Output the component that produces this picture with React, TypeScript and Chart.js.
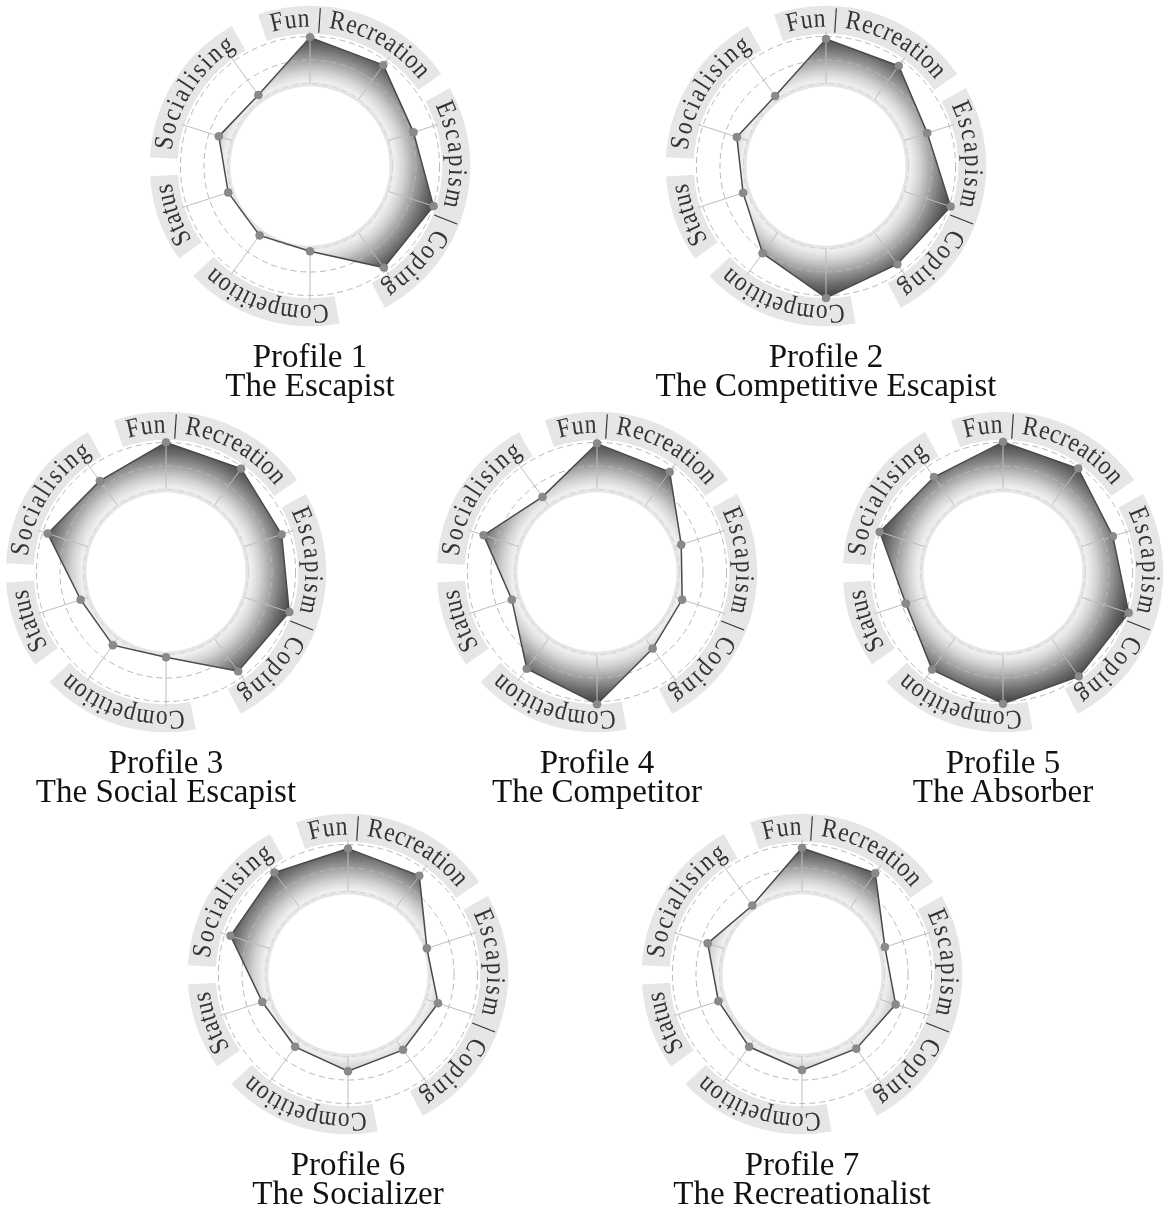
import React, { useEffect, useRef } from 'react';
import { Chart, registerables } from 'chart.js';

Chart.register(...registerables);

// ---------- data ----------
const spokeLabels = [
  'Fun', 'Recreation', 'Escapism', 'Escapism / Coping', 'Coping',
  'Competition A', 'Competition B', 'Status', 'Socialising A', 'Socialising B',
];
const groupLabels = ['Fun | Recreation', 'Escapism | Coping', 'Competition', 'Status', 'Socialising'];
const groupMembers = [[0, 1], [2, 3, 4], [5, 6], [7], [8, 9]];
const gridValues = [-1, 0, 1];

const profileNumbers = ['Profile 1', 'Profile 2', 'Profile 3', 'Profile 4', 'Profile 5', 'Profile 6', 'Profile 7'];
const profileNames = [
  'The Escapist', 'The Competitive Escapist', 'The Social Escapist', 'The Competitor',
  'The Absorber', 'The Socializer', 'The Recreationalist',
];

const profile1 = [0.96, 0.79, 0.12, 1.01, 0.83, -0.88, -0.86, -0.85, -0.43, -0.77];
const profile2 = [0.89, 0.75, 0.02, 1.06, 0.65, 1.10, 0.08, -0.80, -0.52, -0.83];
const profile3 = [1.00, 0.92, 0.66, 1.00, 0.71, -0.88, -0.66, -0.69, 0.78, 0.28];
const profile4 = [0.95, 0.75, -0.74, -0.70, -0.48, 1.11, 0.57, -0.70, 0.56, -0.56];
const profile5 = [1.02, 0.93, 0.40, 1.11, 0.97, 1.09, 0.62, -0.16, 1.00, 0.48];
const profile6 = [0.82, 0.65, -0.98, -0.48, -0.52, -0.37, -0.68, -0.67, 0.74, 0.82];
const profile7 = [0.85, 0.79, -0.80, -0.32, -0.58, -0.42, -0.68, -0.77, -0.29, -0.91];
const profileValues = [profile1, profile2, profile3, profile4, profile5, profile6, profile7];

// ---------- scale / style constants ----------
const SCALE_MIN = -4.5;
const SCALE_MAX = 1.4;
const SPOKE_IN = -1;
const SPOKE_OUT = 1.2;
const HOLE = -1.12;

const gradientStops: [number, string][] = [
  [-1.2, '#e0e0e0'],
  [-1.05, '#e6e6e6'],
  [-0.9, '#efefef'],
  [-0.5, '#d2d2d2'],
  [0, '#a0a0a0'],
  [0.5, '#6e6e6e'],
  [1.0, '#464646'],
  [1.4, '#383838'],
];

const centers = [
  { cx: 310, cy: 166 },
  { cx: 826, cy: 166 },
  { cx: 166, cy: 572 },
  { cx: 597, cy: 572 },
  { cx: 1003, cy: 572 },
  { cx: 348, cy: 974 },
  { cx: 802, cy: 974 },
];
const SIZE = 360;
const PAD = 41;

const LABEL_FONT = '27px "Liberation Serif"';
const LABEL_SX = 0.87;
const labelTracking = [0.6, 1.9, 0.6, 0.6, 2.0];
const labelShiftDeg = [0, -1.5, 0, -1.5, -4];

const decorPlugin = {
  id: 'decor',
  beforeDatasetsDraw(chart: any) {
    const s = chart.scales.r;
    const ctx = chart.ctx as CanvasRenderingContext2D;
    const cx = s.xCenter;
    const cy = s.yCenter;
    const rBase = s.getDistanceFromCenterForValue(SPOKE_OUT);
    const rIn = rBase - 2;
    const rOut = rBase + 26;
    const rText = rBase + 5;
    ctx.save();
    ctx.font = LABEL_FONT;
    groupLabels.forEach((label, g) => {
      const ls = labelTracking[g];
      const angles = groupMembers[g].map((i) => s.getPointPosition(i, rBase).angle);
      const mid = angles.reduce((a, b) => a + b, 0) / angles.length + (labelShiftDeg[g] * Math.PI) / 180;
      const chars = Array.from(label);
      const widths = chars.map((ch) => ctx.measureText(ch).width * LABEL_SX + ls);
      const total = widths.reduce((a, b) => a + b, 0) - ls;
      const span = total / rText;
      const pad = 8 / rText;
      const a0 = mid - span / 2 - pad;
      const a1 = mid + span / 2 + pad;
      ctx.fillStyle = '#e6e6e6';
      ctx.beginPath();
      ctx.arc(cx, cy, rOut, a0, a1);
      ctx.arc(cx, cy, rIn, a1, a0, true);
      ctx.closePath();
      ctx.fill();
      ctx.fillStyle = '#333333';
      let acc = 0;
      chars.forEach((ch, k) => {
        const w = widths[k] - ls;
        const a = mid - span / 2 + (acc + w / 2) / rText;
        ctx.save();
        ctx.translate(cx + rText * Math.cos(a), cy + rText * Math.sin(a));
        ctx.rotate(a + Math.PI / 2);
        ctx.scale(LABEL_SX, 1);
        ctx.textAlign = 'center';
        ctx.textBaseline = 'alphabetic';
        ctx.fillText(ch, 0, 0);
        ctx.restore();
        acc += widths[k];
      });
    });
    ctx.restore();
  },
  afterDatasetDraw(chart: any, args: any) {
    if (args.index !== 0) return;
    const s = chart.scales.r;
    const ctx = chart.ctx as CanvasRenderingContext2D;
    const cx = s.xCenter;
    const cy = s.yCenter;
    ctx.save();
    // hole
    ctx.fillStyle = '#ffffff';
    ctx.beginPath();
    ctx.arc(cx, cy, s.getDistanceFromCenterForValue(HOLE), 0, Math.PI * 2);
    ctx.fill();
    // spokes
    ctx.strokeStyle = '#bdbdbd';
    ctx.lineWidth = 1;
    for (let i = 0; i < spokeLabels.length; i++) {
      const p0 = s.getPointPositionForValue(i, SPOKE_IN);
      const p1 = s.getPointPositionForValue(i, SPOKE_OUT);
      ctx.beginPath();
      ctx.moveTo(p0.x, p0.y);
      ctx.lineTo(p1.x, p1.y);
      ctx.stroke();
    }
    // dashed circles
    ctx.setLineDash([6, 4]);
    gridValues.forEach((v, k) => {
      ctx.strokeStyle = k === 0 ? '#d2d2d2' : '#b8b8b8';
      ctx.beginPath();
      ctx.arc(cx, cy, s.getDistanceFromCenterForValue(v), 0, Math.PI * 2);
      ctx.stroke();
    });
    ctx.restore();
  },
};

function RadarProfile({ index }: { index: number }) {
  const ref = useRef<HTMLCanvasElement | null>(null);
  const { cx, cy } = centers[index];
  useEffect(() => {
    if (!ref.current) return;
    const values = profileValues[index];
    const chart = new Chart(ref.current, {
      type: 'radar',
      data: {
        labels: spokeLabels,
        datasets: [
          {
            data: values,
            fill: 'start',
            borderWidth: 0,
            borderColor: 'rgba(0,0,0,0)',
            pointRadius: 0,
            order: 2,
            backgroundColor: (c: any) => {
              const ch = c.chart;
              const s = ch.scales.r;
              if (!ch.chartArea || !s) return 'rgba(0,0,0,0)';
              const R = s.getDistanceFromCenterForValue(SCALE_MAX);
              const g = ch.ctx.createRadialGradient(s.xCenter, s.yCenter, 0, s.xCenter, s.yCenter, R);
              gradientStops.forEach(([v, col]) => {
                const t = Math.max(0, Math.min(1, s.getDistanceFromCenterForValue(v) / R));
                g.addColorStop(t, col);
              });
              return g;
            },
          },
          {
            data: values,
            fill: false,
            borderColor: '#4a4a4a',
            borderWidth: 1.5,
            pointRadius: 4,
            pointBackgroundColor: '#8a8a8a',
            pointBorderColor: '#7a7a7a',
            pointBorderWidth: 0.5,
            order: 1,
          },
        ],
      },
      options: {
        responsive: false,
        animation: false,
        layout: { padding: PAD },
        plugins: { legend: { display: false }, tooltip: { enabled: false } },
        scales: {
          r: {
            min: SCALE_MIN,
            max: SCALE_MAX,
            ticks: { display: false, stepSize: 1 },
            grid: { display: false },
            angleLines: { display: false },
            pointLabels: { display: false },
          },
        },
      } as any,
      plugins: [decorPlugin as any],
    });
    return () => chart.destroy();
  }, [index]);
  return (
    <>
      <canvas
        ref={ref}
        width={SIZE}
        height={SIZE}
        style={{ position: 'absolute', left: cx - SIZE / 2, top: cy - SIZE / 2, width: SIZE, height: SIZE }}
      />
      <div
        style={{
          position: 'absolute',
          left: cx - 250,
          top: cy + 176,
          width: 500,
          textAlign: 'center',
          font: '33px "Liberation Serif"',
          lineHeight: '29px',
          color: '#111',
        }}
      >
        <div>{profileNumbers[index]}</div>
        <div>{profileNames[index]}</div>
      </div>
    </>
  );
}

export default function App() {
  return (
    <div style={{ position: 'absolute', left: 0, top: 0, width: 1169, height: 1208, background: '#fff', overflow: 'hidden' }}>
      {profileValues.map((_, i) => (
        <RadarProfile key={i} index={i} />
      ))}
    </div>
  );
}
